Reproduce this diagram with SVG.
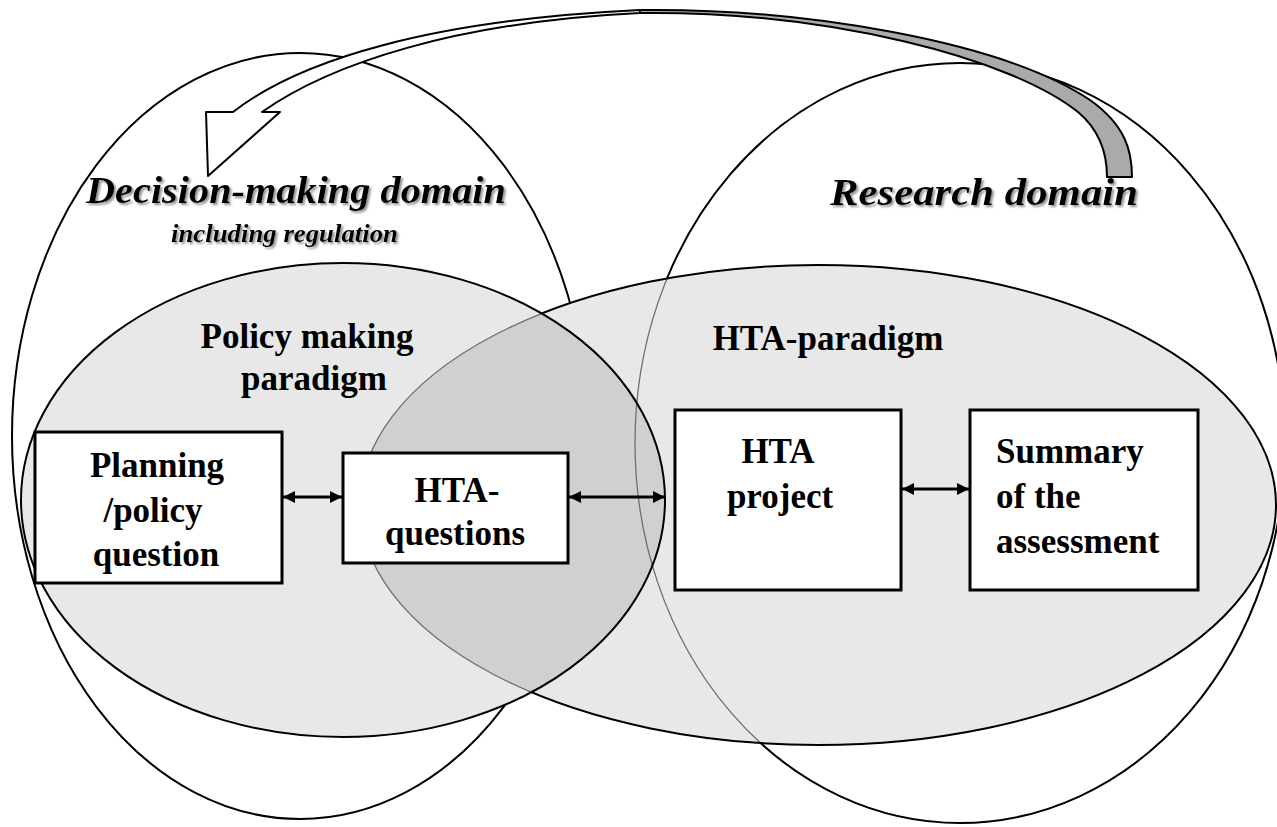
<svg xmlns="http://www.w3.org/2000/svg" width="1277" height="827" viewBox="0 0 1277 827">
<style>
.t{font-family:"Liberation Serif","Times New Roman",serif;font-weight:bold;fill:#000;}
.title{font-style:italic;filter:url(#shadow);}
.box{fill:#fff;stroke:#000;stroke-width:3;}
.conn{stroke:#000;stroke-width:3;fill:none;marker-start:url(#ah);marker-end:url(#ah);}
.outline{fill:none;stroke:#000;stroke-width:2;}
</style>
<defs>
<filter id="shadow" x="-5%" y="-20%" width="110%" height="150%">
<feDropShadow dx="2" dy="2" stdDeviation="1.2" flood-color="#777" flood-opacity="0.8"/>
</filter>
<marker id="ah" markerUnits="userSpaceOnUse" markerWidth="12" markerHeight="12" refX="12" refY="6" orient="auto-start-reverse">
<path d="M0,0 L12,6 L0,12 Z" fill="#000"/>
</marker>
<clipPath id="clipPolicy"><ellipse cx="343" cy="500" rx="322" ry="237"/></clipPath>
<clipPath id="clipHTA"><ellipse cx="818" cy="505" rx="458" ry="240"/></clipPath>
<mask id="outsidePolicy" maskUnits="userSpaceOnUse" x="0" y="0" width="1277" height="827">
<rect x="0" y="0" width="1277" height="827" fill="#fff"/>
<ellipse cx="343" cy="500" rx="321" ry="236" fill="#000"/>
</mask>
</defs>
<rect width="1277" height="827" fill="#fff"/>

<g id="decision-domain">
<ellipse class="outline" cx="300" cy="436" rx="288" ry="383"/>
</g>
<g id="research-domain">
<ellipse class="outline" cx="960" cy="443" rx="325" ry="380"/>
</g>

<g id="paradigms">
<ellipse id="policy-fill" cx="343" cy="500" rx="322" ry="237" fill="#e8e8e8"/>
<ellipse id="hta-fill" cx="818" cy="505" rx="458" ry="240" fill="#e8e8e8"/>
<ellipse id="lens" cx="818" cy="505" rx="458" ry="240" fill="#d0d0d0" clip-path="url(#clipPolicy)"/>
<g clip-path="url(#clipHTA)">
<ellipse cx="960" cy="443" rx="325" ry="380" fill="none" stroke="#6e6e6e" stroke-width="1.3"/>
</g>
<ellipse cx="818" cy="505" rx="458" ry="240" fill="none" stroke="#000" stroke-width="2" mask="url(#outsidePolicy)"/>
<ellipse cx="818" cy="505" rx="458" ry="240" fill="none" stroke="#6e6e6e" stroke-width="1.3" clip-path="url(#clipPolicy)"/>
<ellipse class="outline" cx="343" cy="500" rx="322" ry="237"/>
</g>

<g id="feedback-arrow" stroke="#000" stroke-width="2" stroke-linejoin="round">
<path d="M640,10 C800,8 1000,40 1090,100 C1125,125 1132,150 1132,177 L1107,177 C1107,150 1097,128 1078,112 C1010,58 830,11 640,13 Z" fill="#aaa"/>
<path d="M206,112 L233,112 C300,60 430,20 640,10 L640,13 C455,22 330,64 262,112 L280,112 L208,176 Z" fill="#fff"/>
</g>

<g id="labels">
<text class="t title" x="86" y="203" font-size="38" textLength="420" lengthAdjust="spacingAndGlyphs">Decision-making domain</text>
<text class="t title" x="171" y="242" font-size="25" textLength="227" lengthAdjust="spacingAndGlyphs">including regulation</text>
<text class="t title" x="830" y="205" font-size="38" textLength="308" lengthAdjust="spacingAndGlyphs">Research domain</text>
<text class="t" x="307" y="348" font-size="35" text-anchor="middle">Policy making</text>
<text class="t" x="314" y="390" font-size="35" text-anchor="middle">paradigm</text>
<text class="t" x="828" y="350" font-size="35" text-anchor="middle">HTA-paradigm</text>
</g>

<g id="node-planning">
<rect class="box" x="35" y="432" width="247" height="151"/>
<text class="t" x="157" y="477" font-size="35" text-anchor="middle">Planning</text>
<text class="t" x="153" y="522" font-size="35" text-anchor="middle">/policy</text>
<text class="t" x="156" y="566" font-size="35" text-anchor="middle">question</text>
</g>
<g id="node-hta-questions">
<rect class="box" x="343" y="453" width="225" height="110"/>
<text class="t" x="457" y="502" font-size="35" text-anchor="middle">HTA-</text>
<text class="t" x="455" y="545" font-size="35" text-anchor="middle">questions</text>
</g>
<g id="node-hta-project">
<rect class="box" x="675" y="410" width="226" height="180"/>
<text class="t" x="778" y="463" font-size="35" text-anchor="middle">HTA</text>
<text class="t" x="780" y="508" font-size="35" text-anchor="middle">project</text>
</g>
<g id="node-summary">
<rect class="box" x="970" y="410" width="228" height="180"/>
<text class="t" x="996" y="463" font-size="35">Summary</text>
<text class="t" x="996" y="508" font-size="35">of the</text>
<text class="t" x="996" y="553" font-size="35">assessment</text>
</g>

<g id="connectors">
<line class="conn" x1="283" y1="497" x2="342" y2="497"/>
<line class="conn" x1="569" y1="497" x2="665" y2="497"/>
<line class="conn" x1="902" y1="489" x2="969" y2="489"/>
</g>
</svg>
